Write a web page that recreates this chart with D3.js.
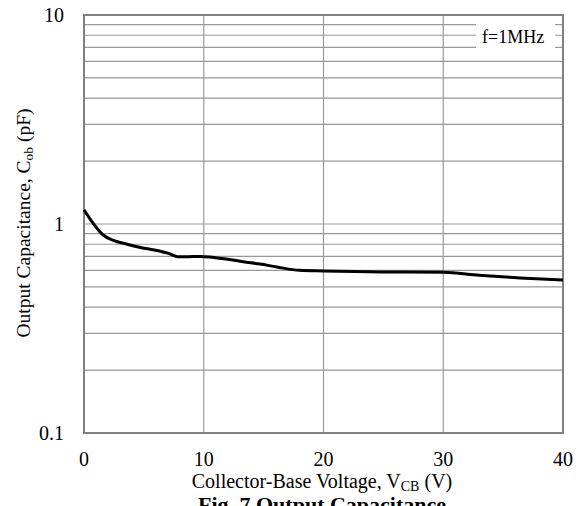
<!DOCTYPE html>
<html>
<head>
<meta charset="utf-8">
<script src="https://cdn.jsdelivr.net/npm/d3@7"></script>
<style>
  body { margin: 0; background: #fff; }
  svg text { font-family: "Liberation Serif", "DejaVu Serif", serif; }
</style>
</head>
<body>
<script>
// Cob vs VCB
const vcb = [0, 0.75, 1.6, 2.4, 3.6, 4.9, 6.3, 7.0, 7.8, 8.5, 9.7, 10.5, 12, 13.3, 14.7, 16.1, 18, 20, 25, 30, 33, 36.4, 40];
const cob = [1.17, 1.01, 0.886, 0.838, 0.80, 0.768, 0.743, 0.725, 0.698, 0.697, 0.70, 0.696, 0.678, 0.66, 0.643, 0.623, 0.60, 0.596, 0.59, 0.587, 0.568, 0.552, 0.54];
const xTicks = [0, 10, 20, 30, 40];
const yTicks = [0.1, 1, 10];
const yTickLabels = ["0.1", "1", "10"];

const w = 576, h = 506;
const pLeft = 84, pRight = 563, pTop = 15, pBottom = 433;
const grey = "#808080";
const serif = "'Liberation Serif', serif";

const svg = d3.select("body").append("svg").attr("width", w).attr("height", h)
  .attr("font-family", serif);

const x = d3.scaleLinear().domain([0, 40]).range([pLeft, pRight]);
const y = d3.scaleLog().domain([0.1, 10]).range([pBottom, pTop]);

// minor grid: 1..9 in each decade
const minor = [];
[0.1, 1].forEach(d => { for (let m = 2; m <= 9; m++) minor.push(d * m); });
minor.push(1);

svg.append("g")
  .selectAll("line")
    .data(minor)
    .enter()
  .append("line")
    .attr("x1", pLeft).attr("x2", pRight)
    .attr("y1", d => y(d)).attr("y2", d => y(d))
    .attr("stroke", "#999").attr("stroke-width", 1.2);

svg.append("g")
  .selectAll("line")
    .data(xTicks.slice(1, -1))
    .enter()
  .append("line")
    .attr("x1", d => x(d)).attr("x2", d => x(d))
    .attr("y1", pTop).attr("y2", pBottom)
    .attr("stroke", "#999").attr("stroke-width", 1.2);

// label box hides the grid behind it
svg.append("rect")
  .attr("x", 476).attr("y", 19).attr("width", 79).attr("height", 36)
  .attr("fill", "#fff");
svg.append("text")
  .attr("x", 482).attr("y", 43)
  .attr("font-size", "18px")
  .text("f=1MHz");

// frame
svg.append("rect")
  .attr("x", pLeft).attr("y", pTop)
  .attr("width", pRight - pLeft).attr("height", pBottom - pTop)
  .attr("fill", "none").attr("stroke", grey).attr("stroke-width", 2);

// curve
const line = d3.line()
  .x((d, i) => x(vcb[i]))
  .y(d => y(d))
  .curve(d3.curveMonotoneX);

svg.append("path")
  .datum(cob)
  .attr("d", line)
  .attr("fill", "none")
  .attr("stroke", "#000")
  .attr("stroke-width", 3)
  .attr("stroke-linejoin", "round");

// tick labels
svg.append("g")
  .selectAll("text")
    .data(xTicks)
    .enter()
  .append("text")
    .attr("x", d => x(d))
    .attr("y", 466)
    .attr("text-anchor", "middle")
    .attr("font-size", "20px")
    .text(d => d);

svg.append("g")
  .selectAll("text")
    .data(yTicks)
    .enter()
  .append("text")
    .attr("x", 64)
    .attr("y", d => y(d) + 7)
    .attr("text-anchor", "end")
    .attr("font-size", "20px")
    .text((d, i) => yTickLabels[i]);

// axis titles
const xt = svg.append("text")
  .attr("x", 322).attr("y", 488)
  .attr("text-anchor", "middle")
  .attr("font-size", "20px");
xt.append("tspan").text("Collector-Base Voltage, V");
xt.append("tspan").attr("font-size", "14px").attr("dy", 3).text("CB");
xt.append("tspan").attr("dy", -3).text(" (V)");

const yt = svg.append("text")
  .attr("transform", "translate(30,223) rotate(-90)")
  .attr("text-anchor", "middle")
  .attr("font-size", "19.5px");
yt.append("tspan").text("Output Capacitance, C");
yt.append("tspan").attr("font-size", "13.5px").attr("dy", 3).text("ob");
yt.append("tspan").attr("dy", -3).text(" (pF)");

svg.append("text")
  .attr("x", 322).attr("y", 512)
  .attr("text-anchor", "middle")
  .attr("font-size", "22px")
  .attr("font-weight", "bold")
  .text("Fig. 7 Output Capacitance");
</script>
</body>
</html>
